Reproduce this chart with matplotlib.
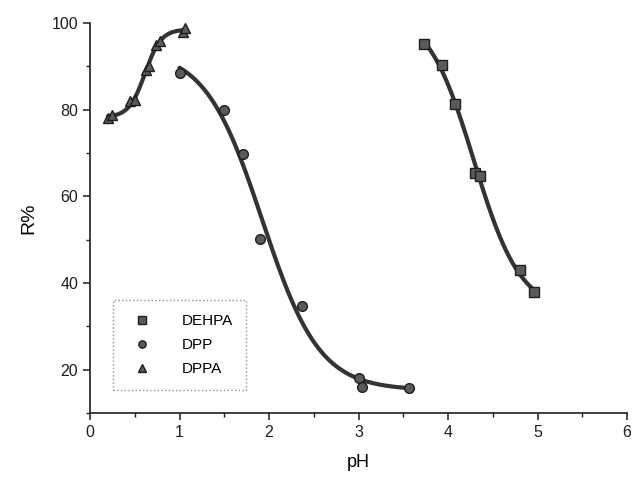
import numpy as np
import matplotlib
matplotlib.use('Agg')
import matplotlib.pyplot as plt
from matplotlib.ticker import MultipleLocator

plt.rcParams['font.family'] = ['Liberation Sans', 'DejaVu Sans']

# ── data ──
dehpa_ph = [3.73, 3.93, 4.08, 4.30, 4.36, 4.80, 4.96]
dehpa_r = [95.3, 90.3, 81.4, 65.5, 64.8, 42.9, 37.9]

dpp_ph = [1.0, 1.5, 1.71, 1.9, 2.37, 3.0, 3.04, 3.56]
dpp_r = [88.4, 79.9, 69.7, 50.1, 34.6, 18.0, 16.0, 15.8]

dppa_ph = [0.20, 0.24, 0.45, 0.50, 0.62, 0.66, 0.74, 0.78, 1.04, 1.06]
dppa_r = [78.0, 78.7, 82.0, 82.3, 89.2, 90.0, 95.0, 95.8, 98.0, 98.8]


def boltzmann_fit(x, y):
    """Least-squares Boltzmann fit: grid over x0, dx; linear solve for A1, A2."""
    x = np.asarray(x, float)
    y = np.asarray(y, float)
    best = None
    for x0 in np.linspace(x.min() - 0.5, x.max() + 0.5, 121):
        for dx in np.linspace(0.08, 1.2, 113):
            s = 1.0 / (1.0 + np.exp((x - x0) / dx))
            A = np.column_stack([np.ones_like(s), s])
            coef, *_ = np.linalg.lstsq(A, y, rcond=None)
            err = np.sum((A @ coef - y) ** 2)
            if best is None or err < best[0]:
                best = (err, x0, dx, coef)
    _, x0, dx, (a2, c) = best
    xs = np.linspace(x.min(), x.max(), 200)
    ys = a2 + c / (1.0 + np.exp((xs - x0) / dx))
    return xs, ys


fig = plt.figure(figsize=(6.34, 4.83), dpi=100)
ax = fig.add_axes([0.142, 0.145, 0.847, 0.807])

line_c = '#333333'
series = [
    (dehpa_ph, dehpa_r, 's', 'DEHPA'),
    (dpp_ph, dpp_r, 'o', 'DPP'),
    (dppa_ph, dppa_r, '^', 'DPPA'),
]
for x, y, m, name in series:
    xs, ys = boltzmann_fit(x, y)
    ax.plot(xs, ys, color=line_c, lw=3.0, solid_capstyle='round', zorder=2)
    ax.plot(x, y, ls='none', marker=m, ms=7, mfc='#5a5a5a', mec='#1e1e1e',
            mew=1.0, zorder=3, label=name)

ax.set_xlim(0, 6)
ax.set_ylim(10, 100)
ax.xaxis.set_major_locator(MultipleLocator(1))
ax.xaxis.set_minor_locator(MultipleLocator(0.5))
ax.yaxis.set_major_locator(MultipleLocator(20))
ax.yaxis.set_minor_locator(MultipleLocator(10))
ax.set_yticks([20, 40, 60, 80, 100])
for s in ['top', 'right']:
    ax.spines[s].set_visible(False)
for s in ['left', 'bottom']:
    ax.spines[s].set_linewidth(1.2)
    ax.spines[s].set_color('#1e1e1e')
ax.tick_params(which='major', direction='out', length=5, width=1.1,
               labelsize=11.5, colors='#1e1e1e')
ax.tick_params(which='minor', direction='out', length=3, width=1.0, colors='#1e1e1e')

ax.set_xlabel('pH', fontsize=13, labelpad=10)
ax.set_ylabel('R%', fontsize=14, labelpad=10)

leg = ax.legend(loc='lower left', bbox_to_anchor=(0.028, 0.04), frameon=True,
                fontsize=11, handletextpad=1.6, borderpad=0.9, labelspacing=0.65,
                fancybox=False, markerscale=0.75)
leg.get_frame().set_edgecolor('#777777')
leg.get_frame().set_linestyle(':')
leg.get_frame().set_linewidth(1.0)

fig.savefig('out.png', dpi=100)
